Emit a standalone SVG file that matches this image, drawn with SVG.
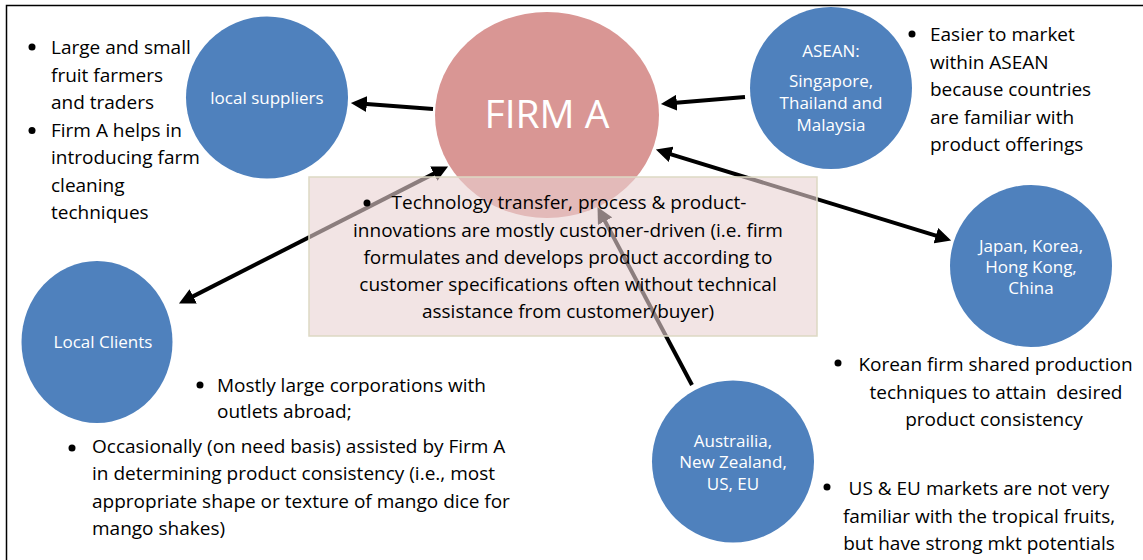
<svg xmlns="http://www.w3.org/2000/svg" width="1143" height="560" viewBox="0 0 1143 560">
<style>
.blue{fill:#4f81bd}
.firm{fill:#d99694}
.lbl{font-family:"Open Sans","Liberation Sans",sans-serif;font-size:17px;fill:#fff;text-anchor:middle}
.big{font-family:"Open Sans","Liberation Sans",sans-serif;font-size:39px;fill:#fff;text-anchor:middle}
.body{font-family:"Open Sans","Liberation Sans",sans-serif;font-size:19px;fill:#000}
.mid{text-anchor:middle}
.bul{fill:#000}
.conn{stroke:#000;stroke-width:4;fill:none}
</style>
<defs>
<marker id="ah" markerUnits="userSpaceOnUse" markerWidth="16" markerHeight="16" refX="6" refY="7" orient="auto-start-reverse" viewBox="0 0 14 14">
<path d="M0,0 L14,7 L0,14 z" fill="#000"/>
</marker>
</defs>
<rect x="6.5" y="5.5" width="1200" height="600" fill="#fff" stroke="#000" stroke-width="1.5"/>

<g id="firm-a">
<ellipse class="firm" cx="547" cy="115" rx="112" ry="103"/>
<text class="big" x="547" y="128">FIRM A</text>
</g>

<g id="local-suppliers">
<circle class="blue" cx="267" cy="97.5" r="81"/>
<text class="lbl" x="267" y="104">local suppliers</text>
</g>

<g id="asean">
<circle class="blue" cx="831" cy="88" r="81"/>
<text class="lbl" x="831" y="57">ASEAN:</text>
<text class="lbl" x="831" y="87">Singapore,</text>
<text class="lbl" x="831" y="109">Thailand and</text>
<text class="lbl" x="831" y="131">Malaysia</text>
</g>

<g id="japan">
<circle class="blue" cx="1031" cy="266" r="81"/>
<text class="lbl" x="1031" y="252">Japan, Korea,</text>
<text class="lbl" x="1031" y="273">Hong Kong,</text>
<text class="lbl" x="1031" y="294">China</text>
</g>

<g id="local-clients">
<ellipse class="blue" cx="97" cy="342" rx="75.5" ry="81"/>
<text class="lbl" x="103" y="348">Local Clients</text>
</g>

<g id="australia">
<circle class="blue" cx="733" cy="461.5" r="81"/>
<text class="lbl" x="733" y="447">Austrailia,</text>
<text class="lbl" x="733" y="468">New Zealand,</text>
<text class="lbl" x="733" y="490">US, EU</text>
</g>

<g id="connectors">
<line class="conn" x1="433" y1="109" x2="360" y2="103.6" marker-end="url(#ah)"/>
<line class="conn" x1="745" y1="97" x2="670" y2="103.3" marker-end="url(#ah)"/>
<line class="conn" x1="664.6" y1="152.3" x2="942.4" y2="237.7" marker-start="url(#ah)" marker-end="url(#ah)"/>
<line class="conn" x1="439.9" y1="170.6" x2="187.1" y2="299.4" marker-start="url(#ah)" marker-end="url(#ah)"/>
<line class="conn" x1="692" y1="385" x2="601.8" y2="215.1" marker-end="url(#ah)"/>
</g>

<g id="note-box">
<rect x="309" y="177" width="508" height="159" fill="rgb(233,210,210)" fill-opacity="0.6" stroke="#ddd9c3" stroke-width="1.5"/>
<circle class="bul" cx="367" cy="203" r="3.5"/>
<text class="body mid" x="569" y="209">Technology transfer, process &amp; product-</text>
<text class="body mid" x="568" y="236.5">innovations are mostly customer-driven (i.e. firm</text>
<text class="body mid" x="568" y="264">formulates and develops product according to</text>
<text class="body mid" x="568" y="291">customer specifications often without technical</text>
<text class="body mid" x="568" y="318">assistance from customer/buyer)</text>
</g>

<g id="suppliers-notes">
<circle class="bul" cx="32" cy="47" r="3.5"/>
<circle class="bul" cx="32" cy="130.5" r="3.5"/>
<text class="body" x="51" y="54">Large and small</text>
<text class="body" x="51" y="81.5">fruit farmers</text>
<text class="body" x="51" y="109">and traders</text>
<text class="body" x="51" y="136.5">Firm A helps in</text>
<text class="body" x="51" y="164">introducing farm</text>
<text class="body" x="51" y="191.5">cleaning</text>
<text class="body" x="51" y="219">techniques</text>
</g>

<g id="asean-notes">
<circle class="bul" cx="912" cy="34" r="3.5"/>
<text class="body" x="930" y="41">Easier to market</text>
<text class="body" x="930" y="68.5">within ASEAN</text>
<text class="body" x="930" y="96">because countries</text>
<text class="body" x="930" y="123.5">are familiar with</text>
<text class="body" x="930" y="151">product offerings</text>
</g>

<g id="japan-notes">
<circle class="bul" cx="838" cy="363" r="3.5"/>
<text class="body mid" x="995.5" y="371">Korean firm shared production</text>
<text class="body mid" x="996" y="398.5" xml:space="preserve">techniques to attain  desired</text>
<text class="body mid" x="994" y="426">product consistency</text>
</g>

<g id="australia-notes">
<circle class="bul" cx="827" cy="487" r="3.5"/>
<text class="body mid" x="979" y="495">US &amp; EU markets are not very</text>
<text class="body mid" x="979" y="522.5">familiar with the tropical fruits,</text>
<text class="body mid" x="979" y="550">but have strong mkt potentials</text>
</g>

<g id="clients-notes">
<circle class="bul" cx="200" cy="385" r="3.5"/>
<text class="body" x="217" y="392">Mostly large corporations with</text>
<text class="body" x="217" y="418">outlets abroad;</text>
<circle class="bul" cx="72" cy="448" r="3.5"/>
<text class="body" x="92" y="453">Occasionally (on need basis) assisted by Firm A</text>
<text class="body" x="92" y="480">in determining product consistency (i.e., most</text>
<text class="body" x="92" y="508">appropriate shape or texture of mango dice for</text>
<text class="body" x="92" y="535">mango shakes)</text>
</g>
</svg>
